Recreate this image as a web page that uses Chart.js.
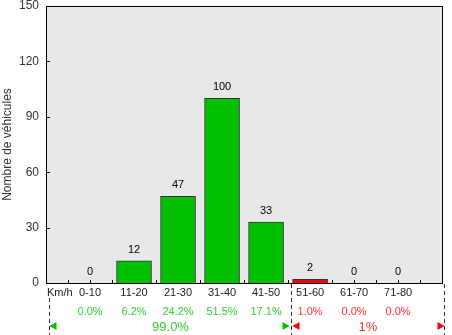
<!DOCTYPE html>
<html><head><meta charset="utf-8">
<script src="https://cdn.jsdelivr.net/npm/chart.js@4/dist/chart.umd.min.js"></script>
<style>html,body{margin:0;padding:0;background:#fff;}#wrap{width:452px;height:335px;}</style>
</head><body><div id="wrap"><canvas id="c" width="452" height="335"></canvas></div>
<script>
const categories = ['0-10','11-20','21-30','31-40','41-50','51-60','61-70','71-80'];
const counts = [0, 12, 47, 100, 33, 2, 0, 0];
const percents = ['0.0%','6.2%','24.2%','51.5%','17.1%','1.0%','0.0%','0.0%'];
const groupTotals = ['99.0%', '1%'];
const splitIndex = 5; // first 5 categories in the green group
const yMax = 150, yStep = 30;
const unitLabel = 'Km/h';
const yTitle = 'Nombre de véhicules';
const dividers = [-0.94, 4.57, 8.04];

const GREEN = '#00c000', RED = '#ff0000';
const TXT_GREEN = '#33cc33', TXT_RED = '#ff3333';
const FONT = '"Liberation Sans", Arial, sans-serif';

const points = counts.map((v, i) => ({x: i, y: v}));
const colors = counts.map((v, i) => i < splitIndex ? GREEN : RED);

const deco = {
  id: 'deco',
  beforeDraw(chart) {
    const {ctx, chartArea: a} = chart;
    ctx.save();
    ctx.fillStyle = '#e8e8e8';
    ctx.fillRect(a.left, a.top, a.right - a.left, a.bottom - a.top);
    const xs = chart.scales.x, ys = chart.scales.y;
    ctx.strokeStyle = '#000'; ctx.lineWidth = 1;
    ctx.beginPath();
    for (let v = yStep; v < yMax; v += yStep) {
      const py = Math.round(ys.getPixelForValue(v)) + 0.5;
      ctx.moveTo(a.left, py); ctx.lineTo(a.left + 4, py);
    }
    for (let k = -0.5; k < categories.length; k += 0.5) {
      const px = Math.round(xs.getPixelForValue(k)) + 0.5;
      ctx.moveTo(px, a.bottom); ctx.lineTo(px, a.bottom - 3);
    }
    ctx.stroke();
    ctx.restore();
  },
  afterDatasetsDraw(chart) {
    const {ctx, chartArea: a} = chart;
    const xs = chart.scales.x, ys = chart.scales.y;
    ctx.save();
    ctx.font = '11px ' + FONT;
    ctx.fillStyle = '#000';
    ctx.textAlign = 'center'; ctx.textBaseline = 'middle';
    counts.forEach((v, i) => {
      ctx.fillText(String(v), xs.getPixelForValue(i), ys.getPixelForValue(v) - 11);
    });
    ctx.strokeStyle = '#000'; ctx.lineWidth = 1;
    ctx.strokeRect(a.left + 0.5, a.top + 0.5, a.right - a.left - 1, a.bottom - a.top);
    ctx.fillStyle = '#222';
    const rowCat = a.bottom + 10;
    categories.forEach((c, i) => ctx.fillText(c, xs.getPixelForValue(i), rowCat));
    ctx.textAlign = 'left';
    ctx.fillText(unitLabel, a.left + 1, rowCat);
    ctx.textAlign = 'center';
    const rowPct = a.bottom + 29;
    percents.forEach((p, i) => {
      ctx.fillStyle = i < splitIndex ? TXT_GREEN : TXT_RED;
      ctx.fillText(p, xs.getPixelForValue(i), rowPct);
    });
    const dx = dividers.map(d => Math.round(xs.getPixelForValue(d)) + 0.5);
    ctx.strokeStyle = '#333';
    ctx.setLineDash([4, 3]);
    ctx.beginPath();
    ctx.moveTo(dx[0], a.bottom + 15); ctx.lineTo(dx[0], chart.height);
    ctx.moveTo(dx[1], a.bottom + 1); ctx.lineTo(dx[1], chart.height);
    ctx.moveTo(dx[2], a.bottom + 1); ctx.lineTo(dx[2], chart.height);
    ctx.stroke();
    ctx.setLineDash([]);
    const rowTot = a.bottom + 43;
    const tri = (tipX, dir, col) => {
      ctx.fillStyle = col;
      ctx.beginPath();
      ctx.moveTo(tipX, rowTot);
      ctx.lineTo(tipX - dir * 7, rowTot - 4);
      ctx.lineTo(tipX - dir * 7, rowTot + 4);
      ctx.closePath(); ctx.fill();
    };
    tri(dx[0], -1, GREEN); tri(dx[1] - 2, 1, GREEN);
    tri(dx[1] + 1, -1, RED); tri(dx[2], 1, RED);
    ctx.font = '13px ' + FONT;
    ctx.fillStyle = TXT_GREEN;
    ctx.fillText(groupTotals[0], (dx[0] + dx[1]) / 2, rowTot + 1);
    ctx.fillStyle = TXT_RED;
    ctx.fillText(groupTotals[1], (dx[1] + dx[2]) / 2, rowTot + 1);
    ctx.restore();
  }
};

new Chart(document.getElementById('c'), {
  type: 'bar',
  data: {
    datasets: [{
      data: points,
      backgroundColor: colors,
      borderColor: '#333',
      borderWidth: 1,
      barThickness: 35
    }]
  },
  options: {
    responsive: false,
    animation: false,
    devicePixelRatio: 1,
    layout: {padding: {left: 0, right: 9, top: 6, bottom: 0}},
    plugins: {legend: {display: false}, tooltip: {enabled: false}},
    scales: {
      x: {
        type: 'linear', min: -1, max: 8.02, offset: false,
        grid: {display: false}, border: {display: false},
        ticks: {display: false},
        afterFit(s) { s.height = 52; }
      },
      y: {
        min: 0, max: yMax,
        grid: {display: false, drawTicks: false}, border: {display: false},
        ticks: {stepSize: yStep, color: '#333', font: {size: 12, family: FONT}, padding: 7},
        title: {display: true, text: yTitle, color: '#333', font: {size: 12, family: FONT}, padding: 0},
        afterFit(s) { s.width = 46; s.paddingTop = 6; s.paddingBottom = 0; }
      }
    }
  },
  plugins: [deco]
});
</script>
</body></html>
